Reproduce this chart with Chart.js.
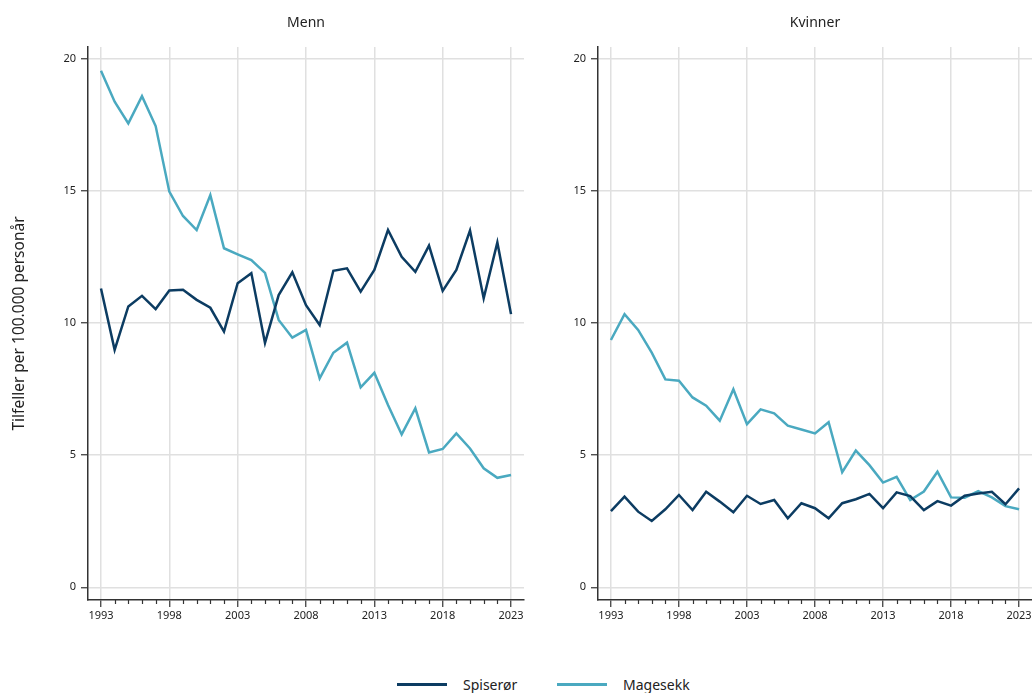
<!DOCTYPE html>
<html>
<head>
<meta charset="utf-8">
<title>Spiserør og magesekk</title>
<script src="https://cdn.jsdelivr.net/npm/chart.js"></script>
<style>
    body { margin: 0; background: #fff; font-family: "Noto Sans", sans-serif; color: #222; }
    #wrap { position: relative; width: 1032px; height: 693px; overflow: hidden; }
    canvas { position: absolute; top: 0; }
    .panel-title { position: absolute; top: 22px; font-size: 14px; line-height: 1; transform: translate(-50%, -50%); }
    .legend-line { position: absolute; top: 683px; width: 50px; height: 3px; }
    .legend-text { position: absolute; top: 685px; font-size: 14px; line-height: 1; transform: translateY(-50%); }
</style>
</head>
<body>
<div id="wrap">
    <canvas id="menn" width="540" height="640" style="left:0"></canvas>
    <canvas id="kvinner" width="492" height="640" style="left:540px"></canvas>
    <div class="panel-title" style="left:306px">Menn</div>
    <div class="panel-title" style="left:815px">Kvinner</div>
    <div class="legend-line" style="left:397px;background:#0c3c62"></div>
    <div class="legend-text" style="left:463px">Spiserør</div>
    <div class="legend-line" style="left:557px;background:#4aa9c0"></div>
    <div class="legend-text" style="left:623px">Magesekk</div>
</div>

<script>
// data (tilfeller per 100.000 personår)
const years = [1993, 1994, 1995, 1996, 1997, 1998, 1999, 2000, 2001, 2002, 2003, 2004, 2005, 2006, 2007, 2008,
               2009, 2010, 2011, 2012, 2013, 2014, 2015, 2016, 2017, 2018, 2019, 2020, 2021, 2022, 2023];
const xLabels = [1993, 1998, 2003, 2008, 2013, 2018, 2023];
const yTicks = [0, 5, 10, 15, 20];

const mennSpiseror = [11.30, 8.98, 10.62, 11.02, 10.52, 11.22, 11.25, 10.87, 10.57, 9.67, 11.50, 11.88, 9.24, 11.05, 11.91, 10.67,
                      9.92, 11.97, 12.06, 11.18, 12.00, 13.51, 12.50, 11.93, 12.92, 11.21, 12.00, 13.49, 10.93, 13.04, 10.33];
const mennMagesekk = [19.53, 18.36, 17.54, 18.57, 17.44, 14.96, 14.04, 13.51, 14.83, 12.82, 12.59, 12.37, 11.89, 10.11, 9.44, 9.73,
                      7.90, 8.87, 9.25, 7.56, 8.11, 6.89, 5.78, 6.77, 5.10, 5.23, 5.82, 5.25, 4.50, 4.14, 4.25];
const kvinnerSpiseror = [2.88, 3.43, 2.86, 2.51, 2.95, 3.49, 2.92, 3.61, 3.24, 2.84, 3.46, 3.15, 3.30, 2.61, 3.18, 2.99,
                         2.61, 3.18, 3.33, 3.53, 2.99, 3.59, 3.45, 2.92, 3.26, 3.09, 3.46, 3.55, 3.61, 3.14, 3.74];
const kvinnerMagesekk = [9.35, 10.33, 9.73, 8.87, 7.86, 7.81, 7.18, 6.87, 6.30, 7.49, 6.17, 6.73, 6.58, 6.11, 5.97, 5.82,
                         6.24, 4.35, 5.17, 4.62, 3.96, 4.18, 3.30, 3.62, 4.37, 3.40, 3.39, 3.64, 3.40, 3.07, 2.95];

const DARK = '#0c3c62';
const LIGHT = '#4aa9c0';
const GRID = '#e0e0e0';
const AXIS = '#333';

Chart.defaults.font.family = '"Noto Sans", sans-serif';
Chart.defaults.color = '#222';

// short tick marks for the in-between years
const minorTicks = {
    id: 'minorTicks',
    afterDraw(chart) {
        const x = chart.scales.x, ctx = chart.ctx;
        const y0 = x.top;
        ctx.save();
        ctx.strokeStyle = AXIS;
        ctx.lineWidth = 1.2;
        years.filter(v => !xLabels.includes(v)).forEach(v => {
            const px = Math.round(x.getPixelForValue(v)) + 0.5;
            ctx.beginPath();
            ctx.moveTo(px, y0);
            ctx.lineTo(px, y0 + 4);
            ctx.stroke();
        });
        ctx.restore();
    }
};

function series(vals) {
    return years.map((yr, i) => ({ x: yr, y: vals[i] }));
}

function makePanel(id, spis, mage, yTitle, yWidth, rightPad) {
    new Chart(document.getElementById(id), {
        type: 'line',
        data: {
            datasets: [
                { label: 'Spiserør', data: series(spis), borderColor: DARK, borderWidth: 2.5, pointRadius: 0, tension: 0 },
                { label: 'Magesekk', data: series(mage), borderColor: LIGHT, borderWidth: 2.5, pointRadius: 0, tension: 0 }
            ]
        },
        options: {
            responsive: false,
            animation: false,
            layout: { padding: { top: 47, right: rightPad, left: 0, bottom: 0 } },
            plugins: { legend: { display: false }, tooltip: { enabled: false } },
            scales: {
                x: {
                    type: 'linear',
                    min: 1992.05,
                    max: 2023.95,
                    afterBuildTicks: s => { s.ticks = years.map(v => ({ value: v })); },
                    afterFit: s => { s.height = 40; s.paddingLeft = 0; s.paddingRight = 0; },
                    ticks: {
                        autoSkip: false, maxRotation: 0, padding: 2,
                        font: { size: 11 },
                        callback: v => xLabels.includes(v) ? String(v) : ''
                    },
                    grid: {
                        color: ctx => (ctx.tick && xLabels.includes(ctx.tick.value)) ? GRID : 'rgba(0,0,0,0)',
                        tickColor: ctx => (ctx.tick && xLabels.includes(ctx.tick.value)) ? AXIS : 'rgba(0,0,0,0)',
                        lineWidth: 1.5, tickLength: 7, tickWidth: 1.2
                    },
                    border: { color: AXIS, width: 1.5 }
                },
                y: {
                    min: -0.48,
                    max: 20.43,
                    afterBuildTicks: s => { s.ticks = yTicks.map(v => ({ value: v })); },
                    afterFit: s => { s.width = yWidth; s.paddingTop = 0; s.paddingBottom = 0; },
                    ticks: { padding: 5, font: { size: 11 } },
                    grid: { color: GRID, lineWidth: 1.5, tickLength: 7, tickColor: AXIS, tickWidth: 1.2 },
                    border: { color: AXIS, width: 1.5 },
                    title: {
                        display: !!yTitle, text: yTitle || '',
                        font: { size: 15.5 }, color: '#222',
                        padding: { top: 10.5, bottom: 0 }
                    }
                }
            }
        },
        plugins: [minorTicks]
    });
}

makePanel('menn', mennSpiseror, mennMagesekk, 'Tilfeller per 100.000 personår', 88, 16);
makePanel('kvinner', kvinnerSpiseror, kvinnerMagesekk, null, 58, 0);
</script>
</body>
</html>
